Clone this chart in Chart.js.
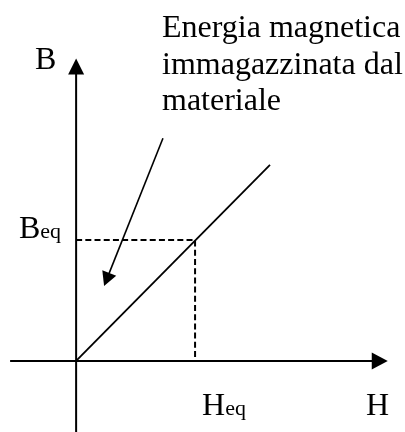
<!DOCTYPE html>
<html>
<head>
<meta charset="utf-8">
<script src="https://cdn.jsdelivr.net/npm/chart.js@4.4.1/dist/chart.umd.min.js"></script>
<style>
  html, body { margin: 0; padding: 0; background: #fff; }
  canvas { display: block; }
</style>
</head>
<body>
<canvas id="bh" width="405" height="432"></canvas>
<script>
// Linear B-H characteristic, in units of the equilibrium point
const curveH = [0, 1.63];
const curveB = [0, 1.62];
const eqH = 1;
const eqB = 1;

// axis extents (data units)
const axisH = [-0.555, 2.62];
const axisB = [-0.59, 2.50];

// annotation text + pointer (from -> to, data units)
const noteLines = ['Energia magnetica', 'immagazzinata dal', 'materiale'];
const pointerFrom = [0.73, 1.84];
const pointerTo = [0.235, 0.62];

const SERIF = '"Liberation Serif", "Times New Roman", serif';

function arrowHead(ctx, tipX, tipY, dx, dy, len, half) {
    const l = Math.hypot(dx, dy);
    const ux = dx / l, uy = dy / l;
    const bx = tipX - ux * len, by = tipY - uy * len;
    ctx.beginPath();
    ctx.moveTo(tipX, tipY);
    ctx.lineTo(bx - uy * half, by + ux * half);
    ctx.lineTo(bx + uy * half, by - ux * half);
    ctx.closePath();
    ctx.fill();
}

const diagram = {
    id: 'diagram',
    afterDatasetsDraw(chart) {
        const ctx = chart.ctx;
        const sx = chart.scales.x, sy = chart.scales.y;
        const px = v => sx.getPixelForValue(v);
        const py = v => sy.getPixelForValue(v);
        const ox = px(0), oy = py(0);

        ctx.save();
        ctx.strokeStyle = '#000';
        ctx.fillStyle = '#000';

        // axes
        ctx.lineWidth = 2;
        ctx.beginPath();
        ctx.moveTo(px(axisH[0]), oy);
        ctx.lineTo(px(axisH[1]) - 10, oy);
        ctx.moveTo(ox, py(axisB[0]));
        ctx.lineTo(ox, py(axisB[1]) + 10);
        ctx.stroke();
        arrowHead(ctx, px(axisH[1]), oy, 1, 0, 16, 8.5);
        arrowHead(ctx, ox, py(axisB[1]), 0, -1, 16, 8);

        // pointer arrow
        const fx = px(pointerFrom[0]), fy = py(pointerFrom[1]);
        const tx = px(pointerTo[0]), ty = py(pointerTo[1]);
        const len = Math.hypot(tx - fx, ty - fy);
        ctx.lineWidth = 1.6;
        ctx.beginPath();
        ctx.moveTo(fx, fy);
        ctx.lineTo(tx - (tx - fx) / len * 10, ty - (ty - fy) / len * 10);
        ctx.stroke();
        arrowHead(ctx, tx, ty, tx - fx, ty - fy, 14, 7.5);

        // text
        ctx.textBaseline = 'alphabetic';
        ctx.textAlign = 'left';
        ctx.font = '32px ' + SERIF;
        noteLines.forEach((t, i) => ctx.fillText(t, 162, 37 + i * 36.5));

        ctx.fillText('B', 35, 69);
        ctx.textAlign = 'right';
        ctx.fillText('H', 389, 415);
        ctx.textAlign = 'left';

        // B_eq label, right end just left of the axis
        ctx.font = '22px ' + SERIF;
        const eqW = ctx.measureText('eq').width;
        ctx.font = '32px ' + SERIF;
        const bW = ctx.measureText('B').width;
        const bx0 = ox - 15 - eqW - bW;
        const by0 = py(eqB) - 2;
        ctx.fillText('B', bx0, by0);
        ctx.fillText('H', px(eqH) + 7, 415);
        const hW = ctx.measureText('H').width;
        ctx.font = '22px ' + SERIF;
        ctx.fillText('eq', bx0 + bW, by0);
        ctx.fillText('eq', px(eqH) + 7 + hW, 415);

        ctx.restore();
    }
};

new Chart(document.getElementById('bh'), {
    type: 'scatter',
    data: {
        datasets: [
            {
                data: curveH.map((h, i) => ({ x: h, y: curveB[i] })),
                showLine: true,
                borderColor: '#000',
                borderWidth: 1.8,
                pointRadius: 0
            },
            {
                data: [{ x: 0, y: eqB }, { x: eqH, y: eqB }, { x: eqH, y: 0 }],
                showLine: true,
                borderColor: '#000',
                borderWidth: 2,
                borderDash: [6, 3.2],
                pointRadius: 0
            }
        ]
    },
    options: {
        responsive: false,
        animation: false,
        layout: { padding: 0 },
        plugins: { legend: { display: false }, tooltip: { enabled: false } },
        scales: {
            x: { type: 'linear', display: false, min: -0.64, max: 2.765 },
            y: { type: 'linear', display: false, min: -0.587, max: 2.983 }
        }
    },
    plugins: [diagram]
});
</script>
</body>
</html>
